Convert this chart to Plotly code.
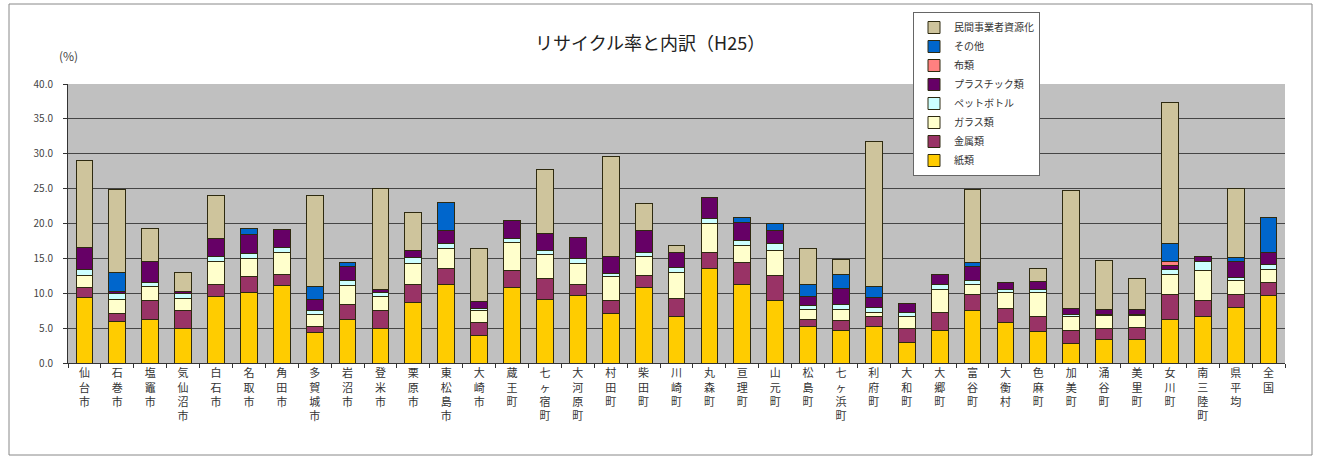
import plotly.graph_objects as go

categories = ["仙台市", "石巻市", "塩竈市", "気仙沼市", "白石市", "名取市", "角田市", "多賀城市",
              "岩沼市", "登米市", "栗原市", "東松島市", "大崎市", "蔵王町", "七ヶ宿町", "大河原町",
              "村田町", "柴田町", "川崎町", "丸森町", "亘理町", "山元町", "松島町", "七ヶ浜町",
              "利府町", "大和町", "大郷町", "富谷町", "大衡村", "色麻町", "加美町", "涌谷町",
              "美里町", "女川町", "南三陸町", "県平均", "全国"]

paper = [9.4, 5.9, 6.3, 5.0, 9.5, 10.1, 11.1, 4.4, 6.2, 5.0, 8.7, 11.2, 3.9, 10.8, 9.1, 9.7,
         7.1, 10.8, 6.6, 13.5, 11.2, 9.0, 5.3, 4.7, 5.3, 3.0, 4.7, 7.5, 5.8, 4.5, 2.8, 3.4,
         3.4, 6.3, 6.6, 8.0, 9.7]
metal = [1.4, 1.2, 2.6, 2.5, 1.8, 2.3, 1.6, 0.9, 2.2, 2.5, 2.6, 2.4, 1.9, 2.5, 3.0, 1.5,
         1.8, 1.8, 2.6, 2.4, 3.2, 3.6, 1.0, 1.4, 1.3, 2.0, 2.5, 2.3, 2.0, 2.2, 1.8, 1.5,
         1.7, 3.5, 2.4, 1.8, 1.9]
glass = [1.8, 2.0, 2.0, 1.7, 3.3, 2.6, 3.2, 1.6, 2.7, 2.1, 2.9, 2.8, 1.7, 4.0, 3.4, 3.1,
         3.5, 2.6, 3.8, 4.1, 2.4, 3.5, 1.4, 1.6, 0.7, 1.6, 3.4, 1.4, 2.3, 3.4, 2.0, 1.9,
         1.7, 2.9, 4.3, 2.0, 1.8]
pet = [0.8, 0.9, 0.6, 0.8, 0.6, 0.7, 0.7, 0.6, 0.7, 0.5, 0.9, 0.8, 0.3, 0.6, 0.7, 0.7,
       0.4, 0.7, 0.7, 0.7, 0.8, 1.0, 0.5, 0.7, 0.6, 0.6, 0.7, 0.7, 0.5, 0.5, 0.4, 0.2,
       0.2, 0.7, 1.2, 0.5, 0.7]
plastic = [3.2, 0.3, 3.0, 0.2, 2.6, 2.7, 2.6, 1.6, 2.1, 0.5, 1.1, 1.8, 1.0, 2.5, 2.3, 3.0,
           2.4, 3.1, 2.2, 3.0, 2.6, 1.9, 1.3, 2.3, 1.5, 1.4, 1.4, 1.9, 1.0, 1.1, 0.8, 0.6,
           0.7, 0.6, 0.8, 2.2, 1.7]
cloth = [0, 0, 0, 0, 0, 0, 0, 0, 0, 0, 0, 0, 0, 0, 0, 0,
         0, 0, 0, 0, 0, 0, 0, 0, 0, 0, 0, 0, 0, 0, 0, 0,
         0, 0.5, 0, 0, 0]
other = [0, 2.7, 0, 0, 0, 0.9, 0, 1.8, 0.5, 0, 0, 4.0, 0, 0, 0, 0,
         0, 0, 0, 0, 0.6, 1.0, 1.8, 2.0, 1.5, 0, 0, 0.6, 0, 0, 0, 0,
         0, 2.6, 0, 0.6, 5.1]
private = [12.5, 11.9, 4.8, 2.8, 6.2, 0, 0, 13.1, 0, 14.4, 5.4, 0, 7.6, 0, 9.2, 0,
           14.4, 3.8, 0.9, 0, 0, 0, 5.1, 2.1, 20.9, 0, 0, 10.5, 0, 1.9, 17.0, 7.1,
           4.4, 20.3, 0, 9.9, 0]

series_names = ["紙類", "金属類", "ガラス類", "ペットボトル", "プラスチック類", "布類", "その他", "民間事業者資源化"]
series_values = [paper, metal, glass, pet, plastic, cloth, other, private]
series_colors = ["#FFCC00", "#993366", "#FFFFCC", "#CCFFFF", "#660066", "#FF8080", "#0066CC", "#CEC49C"]

y_ticks = [0, 5, 10, 15, 20, 25, 30, 35, 40]
y_tick_labels = ["0.0", "5.0", "10.0", "15.0", "20.0", "25.0", "30.0", "35.0", "40.0"]

FONT = "Noto Sans CJK JP"
vertical_labels = ["<br>".join(list(c)) for c in categories]

fig = go.Figure()
for i, (name, vals, col) in enumerate(zip(series_names, series_values, series_colors)):
    fig.add_trace(go.Bar(
        x=categories, y=vals, name=name,
        marker=dict(color=col, line=dict(color="#2e2a10", width=1)),
        legendgroup="g%d" % i,
    ))

W, H = 1320, 459
L, R, T, B = 68, 35, 84, 96
pw = W - L - R
ph = H - T - B

def px_x(x):
    return (x - L) / pw

def px_y(y):
    return (H - B - y) / ph

fig.update_layout(
    width=W, height=H,
    barmode="stack",
    bargap=0.49,
    margin=dict(l=L, r=R, t=T, b=B, autoexpand=False),
    paper_bgcolor="white",
    plot_bgcolor="#C0C0C0",
    font=dict(family=FONT, color="#222222", size=11),
    showlegend=True,
    legend=dict(
        traceorder="reversed",
        x=px_x(913), y=px_y(12), xanchor="left", yanchor="top",
        bgcolor="white", bordercolor="#666666", borderwidth=1,
        font=dict(family=FONT, size=10, color="#333333"),
        tracegroupgap=3,
        itemwidth=30,
    ),
    xaxis=dict(
        tickmode="array", tickvals=categories, ticktext=vertical_labels,
        tickfont=dict(family=FONT, size=11, color="#333333"),
        tickangle=0,
        showline=True, linecolor="#333333", linewidth=1,
        ticks="outside", tickson="boundaries", ticklen=4, tickcolor="#333333",
        showgrid=False,
    ),
    yaxis=dict(
        range=[0, 40],
        tickmode="array", tickvals=y_ticks, ticktext=y_tick_labels,
        tickfont=dict(family=FONT, size=10, color="#444444"),
        ticklabelstandoff=8,
        showgrid=True, gridcolor="#454545", gridwidth=1,
        showline=True, linecolor="#333333", linewidth=1,
        ticks="outside", ticklen=4, tickcolor="#333333",
        zeroline=False,
    ),
    annotations=[
        dict(text="リサイクル率と内訳（H25）", xref="paper", yref="paper",
             x=px_x(650), y=px_y(42), xanchor="center", yanchor="middle",
             showarrow=False, font=dict(family=FONT, size=18, color="#222222")),
        dict(text="(%)", xref="paper", yref="paper",
             x=px_x(68), y=px_y(55), xanchor="center", yanchor="middle",
             showarrow=False, font=dict(family=FONT, size=12, color="#444444")),
    ],
    shapes=[
        dict(type="rect", xref="paper", yref="paper",
             x0=px_x(9), x1=px_x(1312), y0=px_y(455), y1=px_y(4),
             line=dict(color="#888888", width=1), fillcolor="rgba(0,0,0,0)", layer="above"),
    ],
)

fig.write_html("out.html", config={"displayModeBar": False},
               post_script="document.body.style.margin='0px';")
